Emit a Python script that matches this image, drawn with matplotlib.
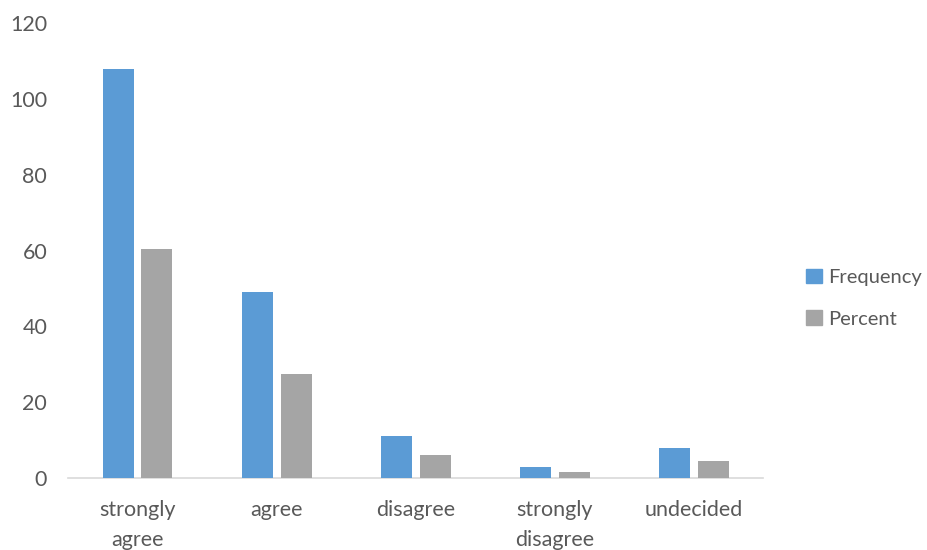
import numpy as np
from matplotlib import pyplot as plt
from matplotlib.patches import Patch

categories = ['strongly\nagree', 'agree', 'disagree', 'strongly\ndisagree', 'undecided']
frequency = [108, 49, 11, 3, 8]
percent = [60.3, 27.4, 6.1, 1.7, 4.5]

blue = '#5B9BD5'
grey = '#A5A5A5'
txt = '#595959'

plt.rcParams['font.family'] = ['Lato', 'DejaVu Sans']

fig = plt.figure(figsize=(9.28, 5.5), dpi=100)
ax = fig.add_axes([0.0733, 0.1309, 0.749, 0.827])

x = np.arange(len(categories))
w = 0.223
ax.bar(x - 0.14, frequency, w, color=blue, zorder=3)
ax.bar(x + 0.14, percent, w, color=grey, zorder=3)

ax.set_xlim(-0.5, len(categories) - 0.5)
ax.set_ylim(0, 120)
ax.set_yticks(range(0, 121, 20))
ax.set_xticks(x)
ax.set_xticklabels(categories, linespacing=1.6)
ax.tick_params(axis='both', length=0, labelsize=15.5, labelcolor=txt)
ax.tick_params(axis='x', pad=16)
ax.tick_params(axis='y', pad=15)
for s in ['top', 'right', 'left']:
    ax.spines[s].set_visible(False)
ax.spines['bottom'].set_color('#D9D9D9')
ax.spines['bottom'].set_linewidth(1.2)

handles = [Patch(color=blue, label='Frequency'), Patch(color=grey, label='Percent')]
leg = fig.legend(handles=handles, loc='center left', bbox_to_anchor=(0.869, 0.458),
                 frameon=False, fontsize=14.5, handlelength=0.75, handleheight=0.75,
                 handletextpad=0.35, labelspacing=1.2, borderaxespad=0, borderpad=0)
for t in leg.get_texts():
    t.set_color(txt)

fig.savefig('out.png', dpi=100)
